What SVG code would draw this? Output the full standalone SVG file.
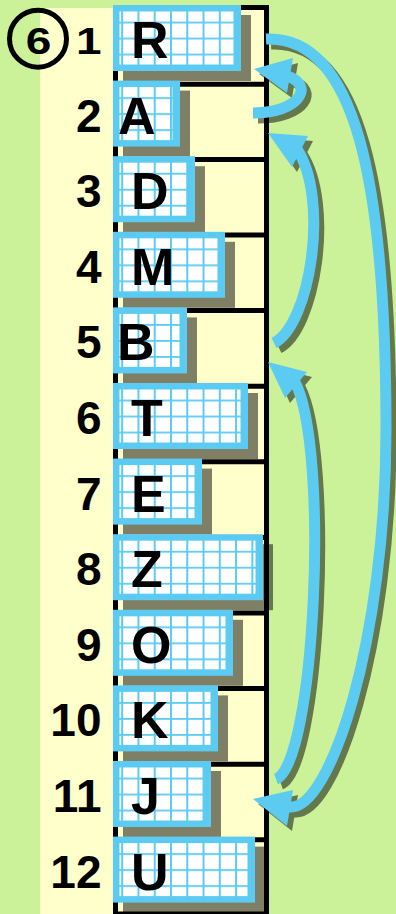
<svg xmlns="http://www.w3.org/2000/svg" width="396" height="914" viewBox="0 0 396 914">
<style>
.sh{fill:#000;opacity:.5}
.bx{fill:#5ccbf2}
.gr{fill:url(#grid)}
.lt{font-family:"Liberation Sans",Arial,sans-serif;font-weight:bold;font-size:52px;fill:#000}
.nm{font-family:"Liberation Sans",Arial,sans-serif;font-weight:bold;font-size:46px;fill:#000;text-anchor:end}
.fr{stroke:#000;stroke-width:5;fill:none}
.ar{fill:none;stroke:#5ccbf2;stroke-width:11}
.ah{fill:#5ccbf2}
.as{fill:none;stroke:#000;stroke-width:11}
</style>
<defs>
<pattern id="grid" patternUnits="userSpaceOnUse" x="8.2" y="16.6" width="16.27" height="16">
<rect width="16.27" height="16" fill="#fff"/>
<rect width="2" height="16" fill="#5ccbf2"/>
<rect width="16.27" height="1.8" fill="#5ccbf2"/>
</pattern>
</defs>
<rect width="396" height="914" fill="#ccf299"/>
<rect x="40" y="8" width="226" height="906" fill="#ffffcc"/>
<g id="frame" class="fr">
<path d="M115.5,5V914M266.5,5V914M113,7.5H269M113,914H269"/>
<path d="M113,84.3H269M113,159.4H269M113,235H269M113,310.6H269M113,386.2H269M113,461.8H269M113,537.4H269M113,613H269M113,688.6H269M113,764.2H269M113,839.8H269"/>
</g>
<g id="step">
<circle cx="38" cy="38.7" r="28.5" fill="none" stroke="#000" stroke-width="5"/>
<text class="nm" style="text-anchor:middle" transform="translate(38.5,53.5) scale(1,0.79)">6</text>
</g>
<g id="n1" transform="translate(113,5)"><rect class="sh" x="10" y="10" width="128" height="66"/><rect class="bx" width="128" height="66"/><rect class="gr" x="6.5" y="6.5" width="114" height="53"/><text class="lt" x="18" y="53">R</text><text class="nm" transform="translate(-11.5,49) scale(1,0.79)">1</text></g>
<g id="n2" transform="translate(113,80.6)"><rect class="sh" x="10" y="10" width="67" height="66"/><rect class="bx" width="67" height="66"/><rect class="gr" x="6.5" y="6.5" width="53" height="53"/><text class="lt" x="5" y="53">A</text><text class="nm" x="-11.5" y="51">2</text></g>
<g id="n3" transform="translate(113,156.2)"><rect class="sh" x="10" y="10" width="82" height="66"/><rect class="bx" width="82" height="66"/><rect class="gr" x="6.5" y="6.5" width="68" height="53"/><text class="lt" x="18" y="53">D</text><text class="nm" x="-11.5" y="51">3</text></g>
<g id="n4" transform="translate(113,231.8)"><rect class="sh" x="10" y="10" width="112" height="66"/><rect class="bx" width="112" height="66"/><rect class="gr" x="6.5" y="6.5" width="98" height="53"/><text class="lt" x="18" y="53">M</text><text class="nm" x="-11.5" y="51">4</text></g>
<g id="n5" transform="translate(113,307.4)"><rect class="sh" x="10" y="10" width="74" height="66"/><rect class="bx" width="74" height="66"/><rect class="gr" x="6.5" y="6.5" width="60" height="53"/><text class="lt" x="4" y="53">B</text><text class="nm" x="-11.5" y="51">5</text></g>
<g id="n6" transform="translate(113,383)"><rect class="sh" x="10" y="10" width="135" height="66"/><rect class="bx" width="135" height="66"/><rect class="gr" x="6.5" y="6.5" width="121" height="53"/><text class="lt" x="18" y="53">T</text><text class="nm" x="-11.5" y="51">6</text></g>
<g id="n7" transform="translate(113,458.6)"><rect class="sh" x="10" y="10" width="89" height="66"/><rect class="bx" width="89" height="66"/><rect class="gr" x="6.5" y="6.5" width="75" height="53"/><text class="lt" x="18" y="53">E</text><text class="nm" x="-11.5" y="51">7</text></g>
<g id="n8" transform="translate(113,534.2)"><rect class="sh" x="10" y="10" width="150" height="66"/><rect class="bx" width="150" height="66"/><rect class="gr" x="6.5" y="6.5" width="136" height="53"/><text class="lt" x="18" y="53">Z</text><text class="nm" x="-11.5" y="51">8</text></g>
<g id="n9" transform="translate(113,609.8)"><rect class="sh" x="10" y="10" width="120" height="66"/><rect class="bx" width="120" height="66"/><rect class="gr" x="6.5" y="6.5" width="106" height="53"/><text class="lt" x="18" y="53">O</text><text class="nm" x="-11.5" y="51">9</text></g>
<g id="n10" transform="translate(113,685.4)"><rect class="sh" x="10" y="10" width="105" height="66"/><rect class="bx" width="105" height="66"/><rect class="gr" x="6.5" y="6.5" width="91" height="53"/><text class="lt" x="18" y="53">K</text><text class="nm" x="-11.5" y="51">10</text></g>
<g id="n11" transform="translate(113,761)"><rect class="sh" x="10" y="10" width="98" height="66"/><rect class="bx" width="98" height="66"/><rect class="gr" x="6.5" y="6.5" width="84" height="53"/><text class="lt" x="18" y="53">J</text><text class="nm" x="-11.5" y="51">11</text></g>
<g id="n12" transform="translate(113,836.6)"><rect class="sh" x="10" y="10" width="142" height="66"/><rect class="bx" width="142" height="66"/><rect class="gr" x="6.5" y="6.5" width="128" height="53"/><text class="lt" x="18" y="53">U</text><text class="nm" x="-11.5" y="51">12</text></g>
<g id="connectors">
<g opacity="0.5" transform="translate(5,5)">
<path class="as" d="M266,39C355,35 386,180 386,430C386,640 330,812 289,807"/>
<path class="as" d="M253,113C300,113 315,85 287,76"/>
<path class="as" d="M274,343C310,325 330,200 297,149"/>
<path class="as" d="M276,779C315,765 330,450 295,382"/>
<polygon points="253,799 293,790 287,826"/>
<polygon points="254,69 293,58 287,93"/>
<polygon points="268,133 308,136 292,167"/>
<polygon points="268,362 307,372 285,398"/>
</g>
<path class="ar" d="M266,39C355,35 386,180 386,430C386,640 330,812 289,807"/>
<path class="ar" d="M253,113C300,113 315,85 287,76"/>
<path class="ar" d="M274,343C310,325 330,200 297,149"/>
<path class="ar" d="M276,779C315,765 330,450 295,382"/>
<polygon class="ah" points="253,799 293,790 287,826"/>
<polygon class="ah" points="254,69 293,58 287,93"/>
<polygon class="ah" points="268,133 308,136 292,167"/>
<polygon class="ah" points="268,362 307,372 285,398"/>
</g>
</svg>
